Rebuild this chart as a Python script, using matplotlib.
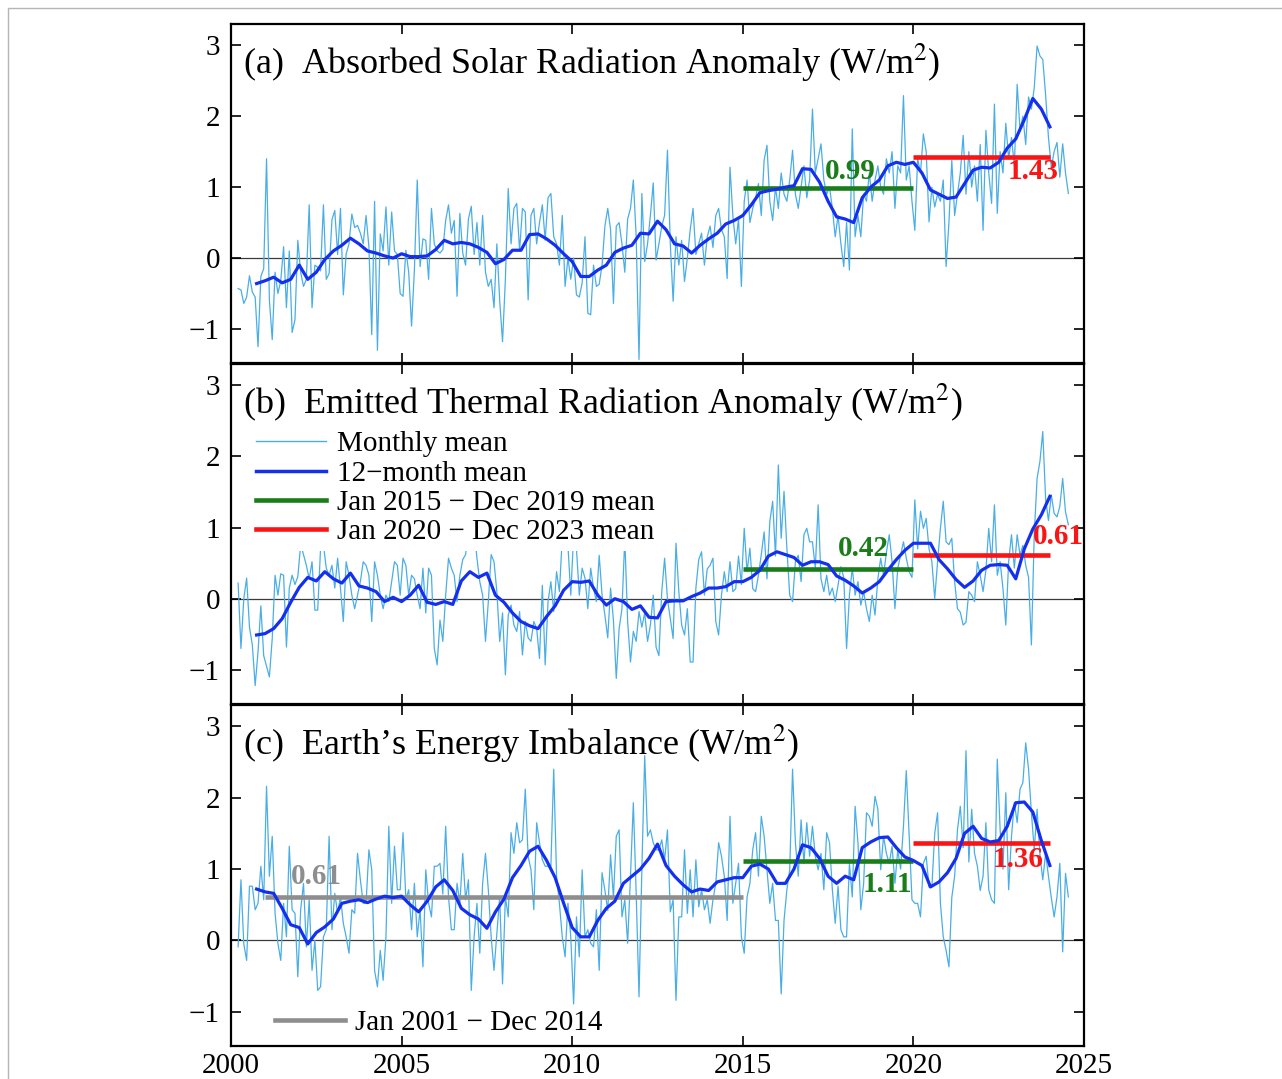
import numpy as np
import matplotlib
matplotlib.use('Agg')
import matplotlib.pyplot as plt
from matplotlib.lines import Line2D
from matplotlib.patches import Rectangle

plt.rcParams['font.family'] = ['Liberation Serif', 'DejaVu Serif']
plt.rcParams['mathtext.fontset'] = 'stix'
plt.rcParams['axes.unicode_minus'] = True

# ---------------- data (W/m^2) ----------------
# monthly values, Mar 2000 ... Jul 2024
monthly_asr = [
    -0.43, -0.45, -0.64, -0.55, -0.25, -0.48, -0.55, -1.25, -0.26, -0.15,
    1.40, -0.59, -1.15, -0.20, -0.50, -0.32, 0.16, -0.70, 0.10, -1.05, -0.87, 0.25,
    -0.20, -0.40, -0.30, 0.75, -0.70, -0.10, -0.13, -0.18, 0.75, -0.30, -0.22, 0.54,
    0.67, 0.05, 0.70, -0.52, 0.06, 0.20, 0.62, 0.43, 0.46, 0.35, 0.20, 0.60,
    0.16, -1.08, 0.80, -1.30, 0.34, 0.10, 0.72, -0.10, 0.65, 0.10, 0.05, -0.50,
    -0.54, 0.11, -0.20, -0.96, -0.17, 1.10, -0.12, 0.27, 0.25, -0.30, 0.70, 0.20,
    0.10, 0.07, 0.12, 0.53, 0.75, 0.35, 0.53, -0.54, 0.63, 0.07, -0.10, 0.55,
    0.73, 0.05, 0.50, -0.10, 0.60, -0.20, -0.40, -0.30, -0.70, 0.20, -0.60, -1.18,
    -0.30, 0.98, 0.20, 0.70, 0.77, 0.10, 0.70, 0.65, -0.59, 0.60, 0.70, 0.20,
    0.50, 0.75, 0.25, 0.85, 0.91, 0.30, 0.20, -0.10, 0.60, -0.40, 0.00, -0.30,
    0.00, -0.52, -0.55, -0.35, 0.30, -0.78, -0.80, -0.10, -0.40, -0.37, -0.10, 0.45,
    0.70, 0.40, -0.64, 0.45, 0.50, 0.20, -0.20, 0.55, 0.70, 1.10, 0.30, -1.43,
    0.91, -0.05, 0.20, 0.60, 1.06, -0.03, 0.20, 0.45, 0.60, 1.52, 0.20, -0.61,
    0.30, -0.10, 0.25, -0.33, 0.00, 0.40, 0.70, 0.05, 0.20, 0.35, -0.10, 0.30,
    0.45, 0.15, 0.60, 0.70, 0.40, 0.30, -0.29, 1.28, 0.60, 0.20, 0.55, -0.40,
    0.80, 1.10, 0.50, 0.70, 0.85, 1.05, 0.60, 1.38, 1.59, 0.80, 0.53, 1.00,
    0.70, 1.20, 0.90, 0.80, 1.10, 1.52, 0.90, 0.70, 1.00, 1.30, 0.85, 1.10,
    2.10, 1.20, 1.40, 1.61, 1.10, 0.90, 1.00, 0.70, 0.30, 0.60, 0.20, -0.12,
    0.50, -0.17, 1.82, 0.30, 0.60, 0.30, 0.90, 0.80, 1.20, 0.80, 1.10, 1.30,
    1.00, 0.90, 1.40, 1.20, 1.50, 0.70, 1.30, 1.20, 2.29, 1.10, 1.30, 0.80,
    0.39, 1.40, 1.20, 1.75, 1.50, 0.51, 1.00, 0.72, 0.90, 0.80, 1.10, -0.12,
    0.50, 1.38, 0.60, 0.90, 1.20, 1.73, 0.90, 1.50, 1.00, 1.30, 0.80, 1.60,
    0.39, 1.80, 1.20, 0.77, 2.17, 0.63, 1.50, 1.20, 1.90, 1.40, 1.70, 1.30,
    2.45, 1.80, 2.00, 1.60, 2.27, 2.10, 2.40, 2.99, 2.85, 2.80, 2.30, 1.70,
    1.28, 1.50, 1.63, 1.14, 1.61, 1.20, 0.91,
]
monthly_olr = [
    0.22, -0.70, 0.00, 0.29, -0.40, -0.65, -1.22, -0.75, -0.10, -0.80,
    -0.95, -1.10, -0.56, 0.33, 0.05, 0.35, 0.33, -0.68, 0.15, 0.33, 0.20, 0.31,
    0.76, 0.62, 0.47, 0.28, 0.52, -0.16, -0.16, 0.71, 0.76, 0.43, 0.33, 0.47,
    0.15, 0.57, 0.15, -0.32, 0.52, 0.33, 0.05, -0.14, 0.05, 0.24, 0.52, 0.47,
    0.33, -0.32, 0.52, 0.33, 0.05, -0.14, 0.05, -0.04, 0.24, 0.52, 0.47, 0.05,
    0.57, 0.47, 0.05, 0.33, 0.28, 0.05, -0.14, 0.43, -0.20, 0.43, 0.33, -0.70,
    -0.93, -0.30, -0.60, 0.05, 0.57, 0.43, 0.33, -0.04, 0.33, 0.55, 0.62, 0.90,
    0.80, 1.00, 0.57, 0.24, 0.05, -0.60, -0.04, 0.62, 0.52, 0.10, -0.60, -0.20,
    -1.07, -0.23, -0.09, -0.37, -0.46, -0.18, -0.79, -0.32, -0.55, -0.60, -0.32, -0.42,
    -0.84, 0.19, -0.93, -0.04, 0.24, -0.18, 0.38, 0.10, 0.85, 0.90, 0.75, 0.05,
    0.90, 0.70, 0.05, 0.43, 0.29, -0.14, 0.43, 0.15, -0.04, 0.61, 0.05, -0.23,
    -0.55, 0.15, -0.30, -1.12, -0.42, -0.14, 0.85, -0.32, -0.89, -0.46, -0.60, -0.18,
    -0.40, -0.20, -0.60, -0.37, 0.05, -0.68, -0.80, 0.10, 0.57, 0.00, -0.28, -0.56,
    0.78, 0.10, -0.37, -0.51, -0.14, -0.89, -0.89, 0.15, 0.55, 0.66, 0.05, 0.42,
    0.47, 0.57, -0.32, -0.51, 0.05, 0.38, 0.10, 0.52, 0.10, 0.14, 0.60, 0.20,
    0.99, 0.38, 0.71, 0.14, 0.10, 0.33, 0.62, 0.94, 0.28, 1.08, 1.37, 0.60,
    1.88, 0.85, 1.51, 0.71, 0.05, -0.04, 0.52, 0.61, 0.24, 0.90, 0.99, 0.80,
    0.80, 0.43, 1.32, 0.28, 0.10, 0.33, 0.05, 0.15, -0.04, 0.19, 0.45, 0.30,
    -0.70, 0.05, 0.43, 0.05, 0.24, -0.09, 0.10, -0.14, -0.32, 0.05, -0.23, 0.28,
    0.57, 0.33, 0.65, 0.90, 0.52, -0.14, 0.43, 0.61, 0.80, 0.57, 0.38, 0.30,
    1.39, 0.70, 1.23, 0.99, 1.13, 0.70, 0.52, 0.00, 0.52, 0.99, 1.37, 0.80,
    0.76, 0.85, 0.24, -0.14, -0.19, -0.37, -0.33, 0.10, 0.05, -0.04, 0.52, 0.33,
    0.10, 0.40, 0.99, 0.52, 1.32, 0.33, 0.52, 0.14, -0.37, 0.52, 0.90, 0.43,
    0.90, 0.61, 0.75, 0.47, 0.30, -0.65, 0.90, 1.69, 1.93, 2.35, 1.40, 1.10,
    1.46, 1.20, 1.15, 1.30, 1.69, 1.22, 1.04,
]
monthly_eei = [
    -0.09, 0.85, -0.05, -0.28, 0.76, 0.76, 0.43, 0.52, 1.04, 0.57,
    2.16, 0.90, 1.46, 0.38, -0.04, -0.28, 0.52, 0.05, 1.32, 0.43, 0.38, -0.51,
    0.43, 0.80, -0.09, 0.57, -0.42, 0.00, -0.70, -0.65, 0.05, 0.15, 1.46, 0.15,
    0.66, 0.38, 0.61, 0.24, 0.05, -0.18, 0.43, 0.38, 1.22, 0.85, 0.52, 0.52,
    1.27, 0.99, -0.42, -0.65, -0.14, -0.56, 0.05, 1.60, 0.52, 1.32, 0.71, 0.71,
    1.51, 0.57, 0.71, 0.15, 0.80, 0.05, 0.43, -0.37, 0.99, 0.52, 0.33, 1.04,
    1.04, 1.08, 0.65, 1.60, 0.61, 0.15, 0.15, 0.80, 0.52, 1.22, 0.57, 0.85,
    -0.70, 0.05, 0.52, -0.18, 0.80, 1.22, 0.71, 0.05, -0.42, 0.10, 0.61, -0.61,
    0.61, 0.33, 1.51, 1.22, 1.65, 1.37, 1.41, 2.12, 1.18, 0.99, 0.43, 1.65,
    1.37, 1.13, 1.04, 1.04, 1.04, 2.40, 0.90, 0.52, 0.05, -0.23, 0.52, 0.05,
    -0.89, 0.33, -0.23, 0.99, 0.05, 0.15, -0.04, -0.09, 0.43, -0.42, 0.95, 0.70,
    0.42, 1.20, 0.60, 1.46, 1.55, 0.33, 0.57, -0.04, 0.90, 1.93, 0.66, -0.79,
    1.00, 2.59, 1.46, 1.55, 1.37, 1.27, 1.27, 1.41, 1.13, 1.55, 0.40, 0.57,
    -0.84, 0.33, 0.33, 1.27, 0.38, 0.99, 0.33, 1.13, 0.47, 0.71, 0.43, 0.57,
    0.24, 0.57, 0.80, 1.37, 1.18, 0.90, 0.28, 1.74, 0.52, 0.80, 1.08, 0.05,
    -0.18, 0.61, 0.80, 1.27, 1.51, 0.90, 1.74, 1.46, 0.99, 0.52, 0.80, 0.28,
    0.28, -0.75, 0.28, 0.71, 0.99, 2.40, 1.37, 0.90, 1.69, 1.08, 1.65, 1.18,
    1.60, 1.18, 0.99, 1.22, 0.71, 1.51, 1.37, 0.71, 0.24, 0.76, 0.15, 0.05,
    0.05, 1.08, 0.61, 1.88, 1.37, 0.43, 0.80, 1.79, 1.74, 1.60, 2.02, 1.84,
    0.99, 1.46, 1.22, 1.08, 1.32, 0.80, 1.27, 1.00, 1.60, 2.38, 1.46, 0.57,
    0.52, 0.52, 0.33, 1.08, 1.18, 0.75, 0.75, 1.50, 1.79, 0.52, 0.05, -0.14,
    -0.37, 0.60, 0.90, 1.55, 1.88, 1.30, 2.66, 1.10, 1.84, 1.22, 1.04, 0.70,
    0.90, 1.65, 0.71, 0.57, 0.52, 2.54, 1.55, 1.00, 2.07, 0.71, 1.46, 1.93,
    1.65, 2.12, 2.21, 2.77, 2.40, 1.79, 1.27, 1.84, 1.20, 0.85, 1.22, 0.90,
    0.60, 0.33, 0.61, 1.08, -0.16, 0.94, 0.61,
]

# 12-month running mean, read every quarter from 2000.75 to 2024.0
smooth_asr = [
    -0.36, -0.32, -0.27, -0.35, -0.30, -0.10, -0.30, -0.20, -0.02, 0.10, 0.18, 0.28,
    0.20, 0.10, 0.07, 0.03, 0.00, 0.06, 0.02, 0.02, 0.03, 0.12, 0.25, 0.20,
    0.22, 0.20, 0.15, 0.08, -0.08, -0.02, 0.11, 0.11, 0.33, 0.34, 0.27, 0.18,
    0.06, -0.05, -0.26, -0.26, -0.17, -0.10, 0.08, 0.14, 0.18, 0.35, 0.34, 0.52,
    0.40, 0.20, 0.17, 0.07, 0.18, 0.27, 0.35, 0.48, 0.53, 0.60, 0.75, 0.92,
    0.95, 0.97, 1.00, 1.02, 1.26, 1.25, 1.07, 0.80, 0.58, 0.55, 0.50, 0.85,
    1.00, 1.10, 1.30, 1.35, 1.32, 1.35, 1.20, 0.96, 0.90, 0.84, 0.86, 1.05,
    1.24, 1.28, 1.27, 1.35, 1.55, 1.68, 1.95, 2.25, 2.10, 1.85,
]
smooth_olr = [
    -0.51, -0.49, -0.42, -0.28, -0.05, 0.16, 0.30, 0.25, 0.38, 0.28, 0.22, 0.36,
    0.18, 0.15, 0.10, -0.04, 0.02, -0.04, 0.05, 0.19, -0.05, -0.08, -0.04, -0.08,
    0.25, 0.38, 0.30, 0.36, 0.05, -0.05, -0.20, -0.32, -0.38, -0.42, -0.25, -0.10,
    0.12, 0.24, 0.23, 0.25, 0.05, -0.09, 0.00, -0.04, -0.15, -0.10, -0.26, -0.27,
    -0.04, -0.03, -0.03, 0.03, 0.08, 0.15, 0.15, 0.17, 0.24, 0.24, 0.30, 0.40,
    0.60, 0.66, 0.62, 0.58, 0.47, 0.52, 0.52, 0.48, 0.32, 0.26, 0.18, 0.08,
    0.15, 0.24, 0.40, 0.55, 0.68, 0.78, 0.78, 0.78, 0.55, 0.42, 0.27, 0.16,
    0.25, 0.40, 0.47, 0.48, 0.47, 0.28, 0.70, 0.98, 1.18, 1.44,
]
smooth_eei = [
    0.72, 0.68, 0.66, 0.45, 0.22, 0.18, -0.05, 0.11, 0.19, 0.30, 0.52, 0.55,
    0.57, 0.53, 0.58, 0.62, 0.60, 0.62, 0.50, 0.40, 0.55, 0.75, 0.85, 0.70,
    0.45, 0.36, 0.30, 0.17, 0.40, 0.58, 0.88, 1.05, 1.25, 1.32, 1.12, 0.88,
    0.52, 0.18, 0.05, 0.05, 0.28, 0.45, 0.55, 0.80, 0.90, 1.00, 1.15, 1.35,
    1.05, 0.90, 0.78, 0.68, 0.72, 0.70, 0.82, 0.85, 0.88, 0.88, 1.04, 1.07,
    1.00, 0.80, 0.80, 1.00, 1.34, 1.30, 1.15, 0.90, 0.80, 0.90, 0.85, 1.30,
    1.38, 1.44, 1.45, 1.30, 1.17, 1.12, 1.05, 0.75, 0.82, 0.95, 1.15, 1.50,
    1.60, 1.43, 1.38, 1.40, 1.60, 1.93, 1.94, 1.80, 1.40, 1.05,
]

# period means: (start, end, value)
means_asr = [(2015, 2020, 0.99), (2020, 2024, 1.43)]
means_olr = [(2015, 2020, 0.42), (2020, 2024, 0.61)]
means_eei = [(2001, 2015, 0.61), (2015, 2020, 1.11), (2020, 2024, 1.36)]

titles = ['(a)  Absorbed Solar Radiation Anomaly (W/m$^2$)',
          '(b)  Emitted Thermal Radiation Anomaly (W/m$^2$)',
          '(c)  Earth\u2019s Energy Imbalance (W/m$^2$)']

C_MONTH = '#4aaee6'
C_BLUE = '#1430ee'
C_GREEN = '#1a7d1a'
C_RED = '#fa1414'
C_GRAY = '#8e8e8e'

t_month = 2000 + (np.arange(2, 2 + len(monthly_asr)) + 0.5) / 12.0
t_smooth = 2000.75 + 0.25 * np.arange(len(smooth_asr))

fig = plt.figure(figsize=(12.82, 10.79), dpi=100)
W, H = 1282.0, 1079.0
left, right = 231 / W, 1084 / W
bounds = [(24, 363), (364, 704), (705, 1046)]

monthly = [monthly_asr, monthly_olr, monthly_eei]
smooth = [smooth_asr, smooth_olr, smooth_eei]
means = [means_asr, means_olr, means_eei]
mean_colors = [[C_GREEN, C_RED], [C_GREEN, C_RED], [C_GRAY, C_GREEN, C_RED]]
# label positions (x, y) in data units for each period mean
label_pos = [[(2017.41, 1.22), (2022.77, 1.22)],
             [(2017.79, 0.70), (2023.50, 0.87)],
             [(2001.76, 0.89), (2018.52, 0.79), (2022.33, 1.13)]]

axes = []
for i, (top, bot) in enumerate(bounds):
    ax = fig.add_axes([left, 1 - bot / H, right - left, (bot - top) / H])
    axes.append(ax)
    ax.plot(t_month, monthly[i], color=C_MONTH, lw=0.9, zorder=2)
    for (s, e, v), c in zip(means[i], mean_colors[i]):
        ax.plot([s, e], [v, v], color=c, lw=3.3, zorder=3, solid_capstyle='butt')
    ax.plot(t_smooth, smooth[i], color=C_BLUE, lw=2.3, zorder=4)
    for (s, e, v), c, (lx, ly) in zip(means[i], mean_colors[i], label_pos[i]):
        ax.text(lx, ly, f'{v:.2f}', color=c, fontsize=21, fontweight='bold',
                ha='left', va='center', zorder=6)
    ax.axhline(0, color='#3a3a3a', lw=0.9, zorder=1)
    ax.set_xlim(2000, 2025)
    ax.set_ylim(-1.48, 3.30)
    ax.set_xticks(range(2000, 2026, 5))
    ax.set_yticks([-1, 0, 1, 2, 3])
    ax.tick_params(direction='in', top=True, right=True, length=7, width=1.2,
                   labelsize=21, pad=8)
    ax.tick_params(axis='x', pad=5)
    for sp in ax.spines.values():
        sp.set_linewidth(1.6)
    if i < 2:
        ax.tick_params(labelbottom=False)
    ax.text(0.014, 0.885, titles[i], transform=ax.transAxes, fontsize=26,
            ha='left', va='center', zorder=7)

handles = [Line2D([], [], color=C_MONTH, lw=1.0),
           Line2D([], [], color=C_BLUE, lw=2.5),
           Line2D([], [], color=C_GREEN, lw=3.3),
           Line2D([], [], color=C_RED, lw=3.3)]
labels = ['Monthly mean', '12\u2212month mean',
          'Jan 2015 \u2212 Dec 2019 mean', 'Jan 2020 \u2212 Dec 2023 mean']
leg = axes[1].legend(handles, labels, loc='upper left', bbox_to_anchor=(0.023, 0.82),
                     fontsize=21, handlelength=2.4, handletextpad=0.35,
                     labelspacing=0.1, borderpad=0.2, borderaxespad=0,
                     frameon=True, fancybox=False, framealpha=1,
                     edgecolor='none', facecolor='white')
leg.set_zorder(5)

leg2 = axes[2].legend([Line2D([], [], color=C_GRAY, lw=3.3)], ['Jan 2001 \u2212 Dec 2014'],
                      loc='upper left', bbox_to_anchor=(0.045, 0.123), fontsize=21,
                      handlelength=2.4, handletextpad=0.35, borderpad=0.2,
                      borderaxespad=0, frameon=False)

fig.patches.append(Rectangle((8 / W, -0.02), 1.2, 1.02 - 8 / H, transform=fig.transFigure,
                             fill=False, edgecolor='#b5b5b5', lw=1.0))

fig.savefig('out.png', dpi=100)
